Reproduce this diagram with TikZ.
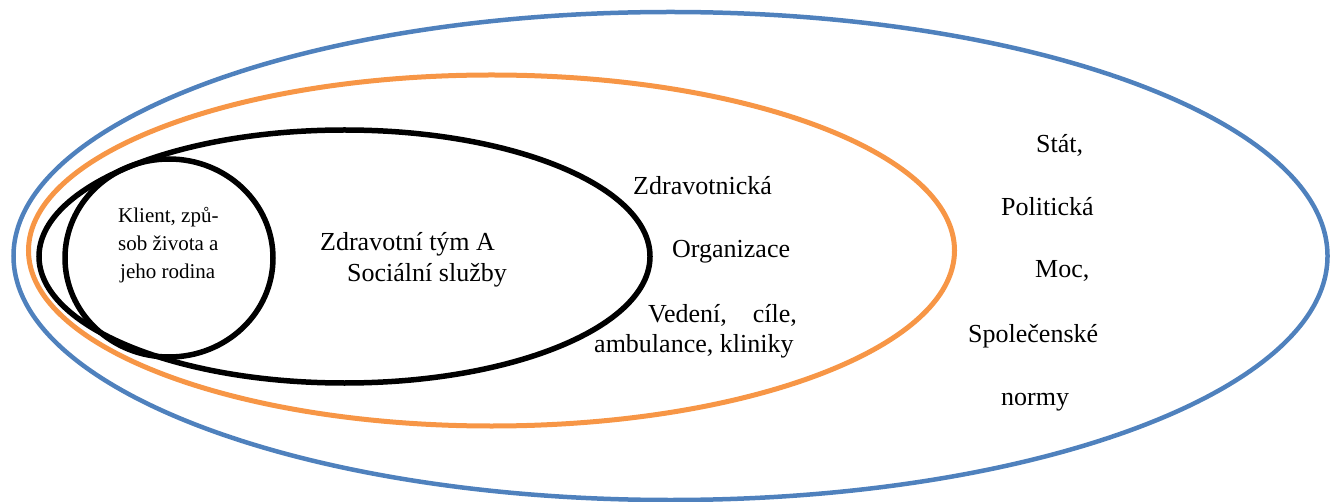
\documentclass[tikz,border=0pt]{standalone}
\usepackage{fontspec}
\setmainfont{Liberation Serif}
\definecolor{ringblue}{HTML}{4F81BD}
\definecolor{ringorange}{HTML}{F79646}
\tikzset{
  ring/.style={line width=5pt},
  lbl/.style={anchor=base west, inner sep=0pt, font=\fontsize{26}{30}\selectfont},
  small/.style={anchor=base west, inner sep=0pt, font=\fontsize{21}{28}\selectfont}
}
\begin{document}
\begin{tikzpicture}[x=1pt,y=-1pt]
\useasboundingbox (0,0) rectangle (1337,502);
% rings
\draw[ring, ringblue, line width=4.5pt] (670.5,256) ellipse [x radius=657pt, y radius=244pt];
\draw[ring, ringorange] (491.5,250.5) ellipse [x radius=463pt, y radius=175.5pt];
\draw[ring, black, line width=5.5pt] (344.5,256.5) ellipse [x radius=305.5pt, y radius=126.5pt];
\draw[ring, black, line width=5.5pt] (169,258) ellipse [x radius=104pt, y radius=99pt];
% client
\node[small] (k1) at (118,223) {Klient, způ-};
\node[small] (k2) at (118,251) {sob života a};
\node[small] (k3) at (120,279) {jeho rodina};
% team
\node[lbl] (t1) at (320,251) {Zdravotní tým A};
\node[lbl] (t2) at (347,282) {Sociální služby};
% organisation
\node[lbl] (o1) at (633,195) {Zdravotnická};
\node[lbl] (o2) at (672,258) {Organizace};
\node[lbl] (o3) at (648,322) {Vedení,\hspace{26pt}cíle,};
\node[lbl] (o4) at (594,352) {ambulance, kliniky};
% state
\node[lbl] (s1) at (1036,153) {Stát,};
\node[lbl] (s2) at (1001,216) {Politická};
\node[lbl] (s3) at (1035,278) {Moc,};
\node[lbl] (s4) at (968,342) {Společenské};
\node[lbl] (s5) at (1001,405) {normy};
\end{tikzpicture}
\end{document}
